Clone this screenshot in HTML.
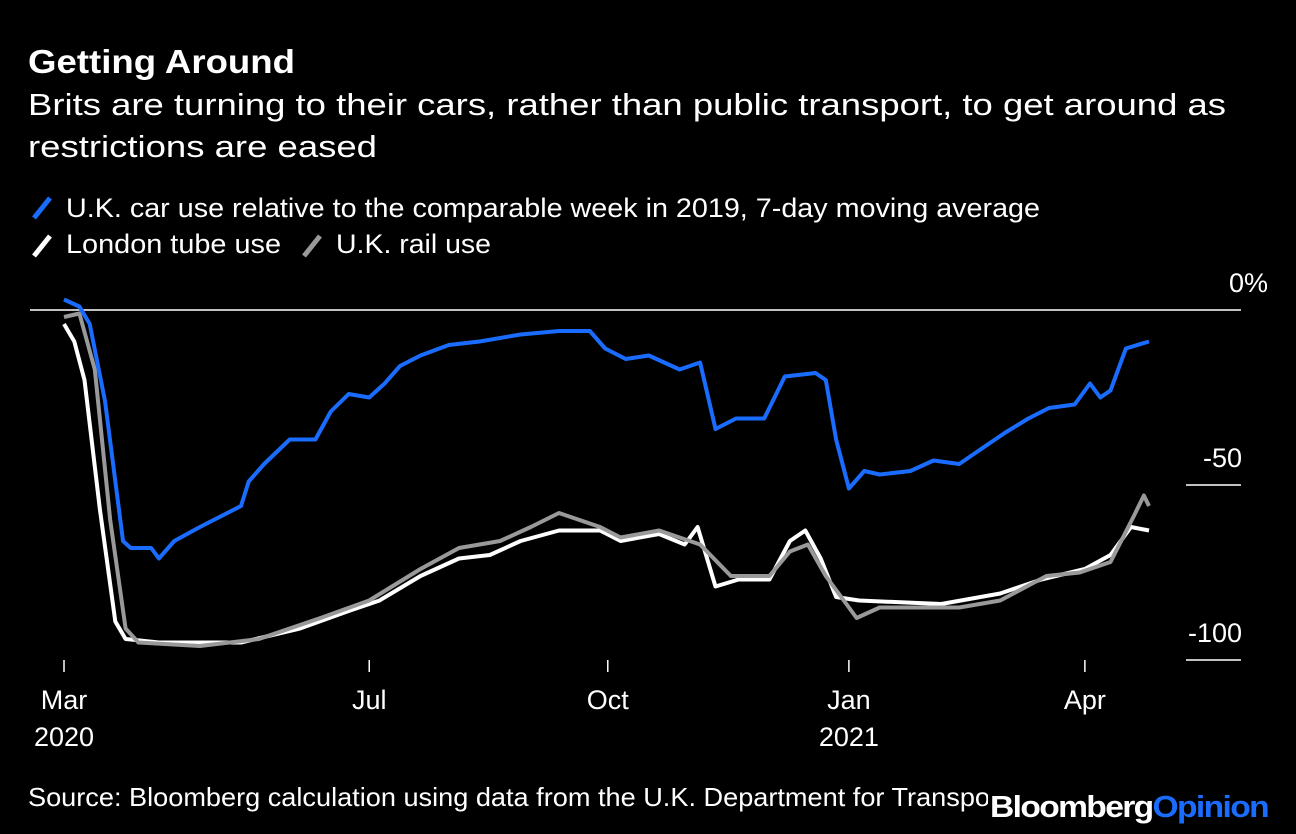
<!DOCTYPE html>
<html><head><meta charset="utf-8">
<style>
body{margin:0;background:#000;width:1296px;height:834px;overflow:hidden;font-family:"Liberation Sans",sans-serif;color:#fff;}
svg{position:absolute;left:0;top:0}
</style></head>
<body>
<svg width="1296" height="834">
<text x="28" y="73" font-size="33" font-weight="bold" fill="#fff" textLength="267" lengthAdjust="spacingAndGlyphs">Getting Around</text>
<text x="28" y="115" font-size="31" fill="#fff" textLength="1198" lengthAdjust="spacingAndGlyphs">Brits are turning to their cars, rather than public transport, to get around as</text>
<text x="28" y="157" font-size="31" fill="#fff" textLength="349" lengthAdjust="spacingAndGlyphs">restrictions are eased</text>
<g>
<line x1="34" y1="218" x2="50" y2="198" stroke="#1a6cff" stroke-width="5"/>
<text x="66" y="217" font-size="27" fill="#fff" textLength="974" lengthAdjust="spacingAndGlyphs">U.K. car use relative to the comparable week in 2019, 7-day moving average</text>
<line x1="34" y1="256" x2="50" y2="236" stroke="#fff" stroke-width="5"/>
<text x="66" y="253" font-size="27" fill="#fff" textLength="215" lengthAdjust="spacingAndGlyphs">London tube use</text>
<line x1="304" y1="256" x2="320" y2="236" stroke="#999" stroke-width="5"/>
<text x="336" y="253" font-size="27" fill="#fff" textLength="155" lengthAdjust="spacingAndGlyphs">U.K. rail use</text>
</g>
<g id="axes"></g>
<g id="series"></g>
<text x="28" y="806" font-size="26" fill="#fff" textLength="962" lengthAdjust="spacingAndGlyphs">Source: Bloomberg calculation using data from the U.K. Department for Transpo</text>
<rect x="988" y="782" width="305" height="40" fill="#000"/>
<text x="990" y="817" font-size="31" font-weight="bold" letter-spacing="-1.5" textLength="278" lengthAdjust="spacingAndGlyphs"><tspan fill="#fff">Bloomberg</tspan><tspan fill="#1a6cff">Opinion</tspan></text>
</svg>
<script>
const carDays=[0,6,10,16,23,26,34,37,43,53,61,69,72,78,88,98,104,111,119,125,131,139,150,162,178,193,205,211,219,228,240,248,254,262,273,281,293,297,301,306,312,318,330,339,349,359,367,376,384,394,400,404,408,414,423];
const carVals=[3,1,-4,-26,-66,-68,-68,-71,-66,-62,-59,-56,-49,-44,-37,-37,-29,-24,-25,-21,-16,-13,-10,-9,-7,-6,-6,-11,-14,-13,-17,-15,-34,-31,-31,-19,-18,-20,-37,-51,-46,-47,-46,-43,-44,-39,-35,-31,-28,-27,-21,-25,-23,-11,-9];
const tubeDays=[0,4,8,14,20,24,37,69,92,111,123,139,154,166,178,193,209,217,232,242,247,254,263,275,283,289,295,301,310,342,365,381,398,408,416,423];
const tubeVals=[-4,-9,-20,-57,-89,-94,-95,-95,-91,-86,-83,-76,-71,-70,-66,-63,-63,-66,-64,-67,-62,-79,-77,-77,-66,-63,-71,-82,-83,-84,-81,-77,-74,-70,-62,-63];
const railDays=[0,6,12,18,24,29,53,76,100,119,139,154,170,182,193,209,217,232,248,260,275,283,290,297,304,309,318,349,365,383,396,408,417,421,423];
const railVals=[-2,-1,-17,-60,-91,-95,-96,-94,-88,-83,-74,-68,-66,-62,-58,-62,-65,-63,-67,-76,-76,-69,-67,-76,-83,-88,-85,-85,-83,-76,-75,-72,-59,-53,-56];
const xTickDays=[0,119,212,306,398];
const xTickLabels=["Mar","Jul","Oct","Jan","Apr"];
const xTickYears=["2020","","","2021",""];
const yTicks=[0,-50,-100];
const yTickLabels=["0%","-50","-100"];
const NS="http://www.w3.org/2000/svg";
const xs=d=>64+d*2.565;
const ys=v=>310-v*3.5;
const axes=document.getElementById('axes'),series=document.getElementById('series');
function mk(tag,attrs,parent){const e=document.createElementNS(NS,tag);for(const k in attrs)e.setAttribute(k,attrs[k]);parent.appendChild(e);return e;}
yTicks.forEach((v,i)=>{
  const l=mk('line',{x1:v===0?30:1186,x2:1241,y1:ys(v),y2:ys(v),stroke:'#fff','stroke-width':1.5},axes);
  
  
  const t=mk('text',{x:v===0?1268:1242,y:ys(v)-18,'font-size':27,fill:'#fff','text-anchor':'end'},axes);
  t.textContent=yTickLabels[i];
  
  
});
xTickDays.forEach((d,i)=>{
  const l=mk('line',{x1:xs(d),x2:xs(d),y1:660,y2:672,stroke:'#fff','stroke-width':1.5},axes);
  
  
  const t=mk('text',{x:xs(d),y:709,'font-size':27,fill:'#fff','text-anchor':'middle'},axes);
  t.textContent=xTickLabels[i];
  
  
  if(xTickYears[i]){
    const y=mk('text',{x:xs(d),y:746,'font-size':27,fill:'#fff','text-anchor':'middle'},axes);
    y.textContent=xTickYears[i];
    
    
  }
});
function line(days,vals,color,name){
  const p=mk('path',{d:days.map((d,i)=>(i?'L':'M')+xs(d).toFixed(1)+','+ys(vals[i]).toFixed(1)).join(''),fill:'none',stroke:color,'stroke-width':4,'stroke-linejoin':'round'},series);
  
  
}
line(tubeDays,tubeVals,'#fff','tube-line');
line(railDays,railVals,'#999','rail-line');
line(carDays,carVals,'#1a6cff','car-line');
</script>
</body></html>
